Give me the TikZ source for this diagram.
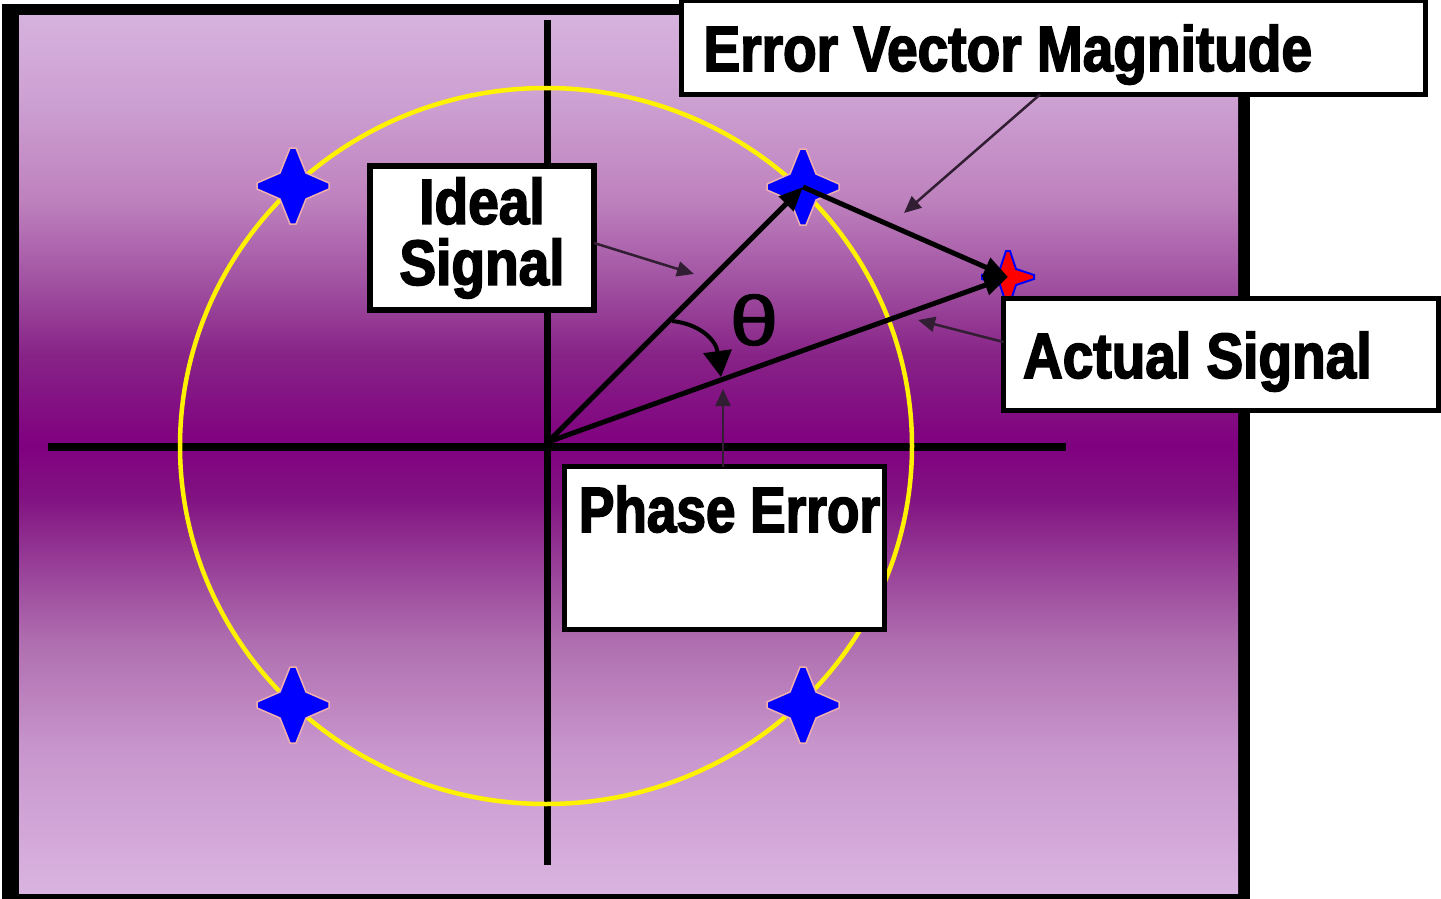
\documentclass[tikz,border=0pt]{standalone}
\usepackage{fontspec}
\usetikzlibrary{arrows.meta}
\newfontfamily\labfont[FakeStretch=0.86,FakeBold=2.5]{Liberation Sans Bold}
\newfontfamily\labfontn[FakeStretch=0.83,FakeBold=2.5]{Liberation Sans Bold}
\newfontfamily\thfont[FakeBold=1.5]{Liberation Sans}
\definecolor{gA}{RGB}{218,180,224}
\definecolor{gB}{RGB}{200,150,205}
\definecolor{gC}{RGB}{175,110,175}
\definecolor{gD}{RGB}{150,60,150}
\definecolor{gE}{RGB}{130,20,130}
\definecolor{gF}{RGB}{128,0,128}
\definecolor{gG}{RGB}{135,35,135}
\definecolor{gH}{RGB}{160,80,160}
\definecolor{gI}{RGB}{190,130,190}
\definecolor{gJ}{RGB}{205,160,210}
\definecolor{gK}{RGB}{214,178,222}
\definecolor{halo}{RGB}{240,175,175}
\definecolor{leadc}{RGB}{50,30,50}
\pgfdeclareverticalshading{bgshade}{100bp}{
  color(0bp)=(gA); color(25bp)=(gA); color(33.15bp)=(gB); color(39.4bp)=(gC);
  color(43.95bp)=(gD); color(47.4bp)=(gE); color(50.5bp)=(gF);
  color(55.65bp)=(gG); color(59.65bp)=(gH); color(64.55bp)=(gI);
  color(70.2bp)=(gJ); color(75bp)=(gK); color(100bp)=(gK)}
\tikzset{
  qstar/.pic={\fill[blue, draw=halo, line width=1.5pt]
    (-3,-38) -- (3,-38) -- (13,-13) -- (36,-3) -- (36,3) -- (13,13) --
    (3,38) -- (-3,38) -- (-13,13) -- (-36,3) -- (-36,-3) -- (-13,-13) -- cycle;},
  astar/.pic={\fill[red, draw=blue, line width=2pt]
    (-2,-26) -- (2,-26) -- (8,-8) -- (26,-2) -- (26,2) -- (8,8) --
    (2,26) -- (-2,26) -- (-8,8) -- (-26,2) -- (-26,-2) -- (-8,-8) -- cycle;}
}
\begin{document}
\begin{tikzpicture}[x=1pt,y=-1pt,
  vec/.style={line width=5pt, -{Triangle[length=24pt,width=20pt]}},
  lead/.style={line width=2.5pt, leadc, -{Triangle[length=17pt,width=15pt]}},
  tbox/.style={draw=black, fill=white, line width=5pt, inner sep=0pt, outer sep=0pt,
    font=\labfont\fontsize{64}{61}\selectfont}]
\useasboundingbox (0,0) rectangle (1441,899);
\fill[white] (0,0) rectangle (1441,899);
% frame and background
\fill[black] (2,4) rectangle (1250,899);
\shade[shading=bgshade] (19,16) rectangle (1238,893);
% coordinates
\coordinate (o) at (548,442);
\coordinate (s1) at (293,186);
\coordinate (s2) at (803,187);
\coordinate (s3) at (293,705);
\coordinate (s4) at (803,705);
\coordinate (sa) at (1008,277);
\coordinate (xl) at (48,447);
\coordinate (xr) at (1066,447);
\coordinate (yt) at (547,20);
\coordinate (yb) at (547,865);
% axes
\draw[line width=8pt, black] (xl) -- (xr);
\draw[line width=7pt, black] (yt) -- (yb);
% circle
\draw[yellow, line width=4.5pt] (546,446) ellipse [x radius=366, y radius=358];
% stars
\pic at (s1) {qstar};
\pic at (s2) {qstar};
\pic at (s3) {qstar};
\pic at (s4) {qstar};
\pic at (sa) {astar};
% vectors
\draw[vec] (o) -- (s2);
\draw[vec] (o) -- (sa);
\draw[vec] (s2) -- (sa);
% angle arc
\coordinate (arcA) at (672,321);
\coordinate (arcB) at (721,377);
\draw[line width=4pt, -{Triangle[length=26pt,width=28pt]}] (arcA) .. controls (700,324) and (716,340) .. (arcB);
\node[font=\thfont\fontsize{70}{70}\selectfont, inner sep=0pt] (theta) at (754,320) {\scalebox{1.25}[1]{θ}};
% boxes
\node[tbox, anchor=base west, text height=70.5pt, text depth=23.5pt] (evm) at (681.5,71)
  {\makebox[744pt][l]{\hspace*{22pt}Error Vector Magnitude}};
\node[tbox, anchor=base west, text height=79.5pt, text depth=32.5pt] (act) at (1003.5,378)
  {\makebox[435pt][l]{\hspace*{19.5pt}Actual Signal}};
\node[tbox, font=\labfontn\fontsize{64}{61}\selectfont, anchor=base west, text height=65.5pt, text depth=97.5pt] (pe) at (564.5,532)
  {\makebox[320pt][l]{\hspace*{14.5pt}Phase Error}};
\node[tbox, line width=6pt, minimum width=224pt, minimum height=144pt, align=center] (ideal) at (482,238)
  {Ideal\\Signal};
% leaders
\coordinate (evmtip) at (904,213);
\coordinate (idtip) at (694,274);
\coordinate (acttip) at (918,320);
\coordinate (petip) at (723,389);
\draw[lead] ([xshift=-13.5pt]evm.south) -- (evmtip);
\draw[lead] ([yshift=-5pt]ideal.east) -- (idtip);
\draw[lead] ([yshift=12.5pt]act.west) -- (acttip);
\draw[lead] ([xshift=-1.5pt]pe.north) -- (petip);
\end{tikzpicture}
\end{document}
